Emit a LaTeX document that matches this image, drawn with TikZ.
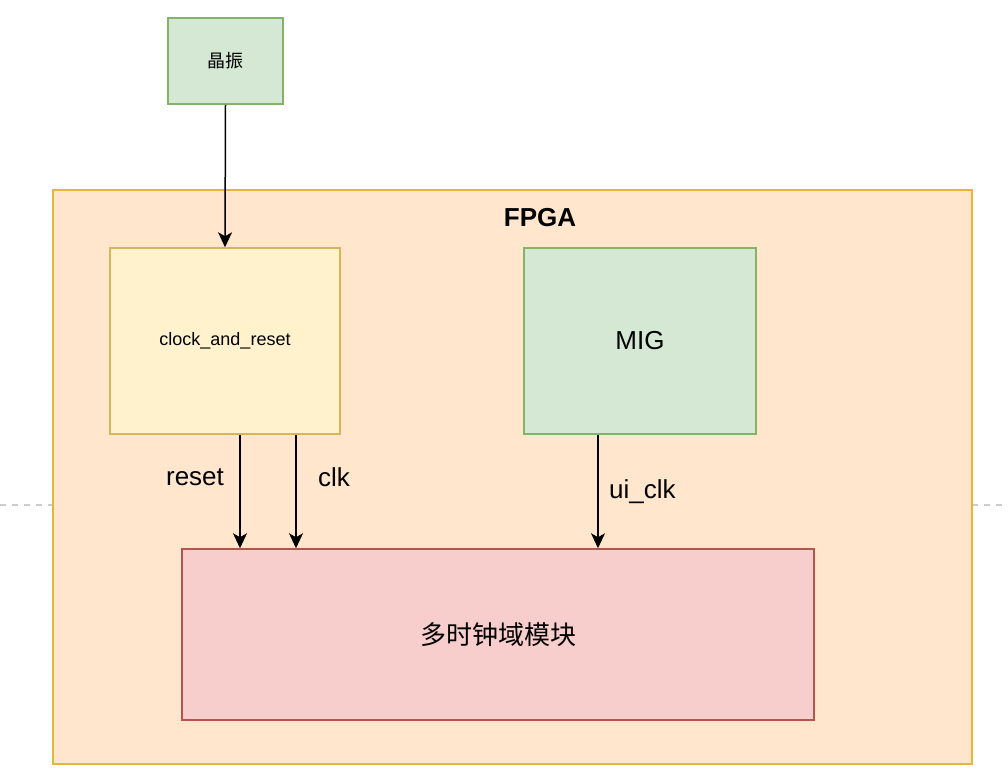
\documentclass[tikz,border=0pt]{standalone}
\usepackage{fontspec}
\setmainfont{Liberation Sans}
\newfontfamily\cjk{Noto Sans CJK SC}
\usetikzlibrary{arrows.meta,positioning}

\definecolor{fpgafill}{HTML}{FFE6CC}
\definecolor{fpgaline}{HTML}{E6B53C}
\definecolor{yelfill}{HTML}{FFF2CC}
\definecolor{yelline}{HTML}{D6B656}
\definecolor{grnfill}{HTML}{D5E8D4}
\definecolor{grnline}{HTML}{82B366}
\definecolor{redfill}{HTML}{F8CECC}
\definecolor{redline}{HTML}{B85450}

\tikzset{
  block/.style={draw, line width=1.5pt, inner sep=0pt, text=black},
  sig/.style={line width=1.5pt, -{Stealth[length=15pt,width=14pt,inset=4pt]}},
  big/.style={font=\fontsize{26}{31}\selectfont},
  small/.style={font=\fontsize{18}{22}\selectfont}
}

\begin{document}
\begin{tikzpicture}[x=1pt,y=-1pt]
\useasboundingbox (0,0) rectangle (1008,782);
\draw[gray!40, line width=1.5pt, dash pattern=on 6pt off 6pt] (0,505) -- (1008,505);
\node[block, draw=fpgaline, fill=fpgafill, minimum width=919, minimum height=574] (fpga) at (512.5,477) {};
\node[font=\fontsize{26}{30}\selectfont\bfseries] (fpgalbl) at (540,218) {FPGA};
\node[block, draw=grnline, fill=grnfill, minimum width=115, minimum height=86, small] (xtal) at (225.5,61) {\cjk 晶振};
\node[block, draw=yelline, fill=yelfill, minimum width=230, minimum height=186, small] (clkrst) at (225,341) {clock\_and\_reset};
\node[block, draw=grnline, fill=grnfill, minimum width=232, minimum height=186, big] (mig) at (640,341) {MIG};
\node[block, draw=redline, fill=redfill, minimum width=632, minimum height=171, big] (mcd) at (498,634.5) {\cjk 多时钟域模块};
\draw[sig] (xtal.south) -- (clkrst.north);
\draw[sig] ([xshift=15]clkrst.south) -- ([xshift=15]clkrst.south |- mcd.north) node[pos=0.37, left=12pt, big] {reset};
\draw[sig] ([xshift=71]clkrst.south) -- ([xshift=71]clkrst.south |- mcd.north) node[pos=0.37, right=18pt, big] {clk};
\draw[sig] ([xshift=-42]mig.south) -- ([xshift=-42]mig.south |- mcd.north) node[pos=0.5, right=7pt, big] {ui\_clk};
\end{tikzpicture}
\end{document}
